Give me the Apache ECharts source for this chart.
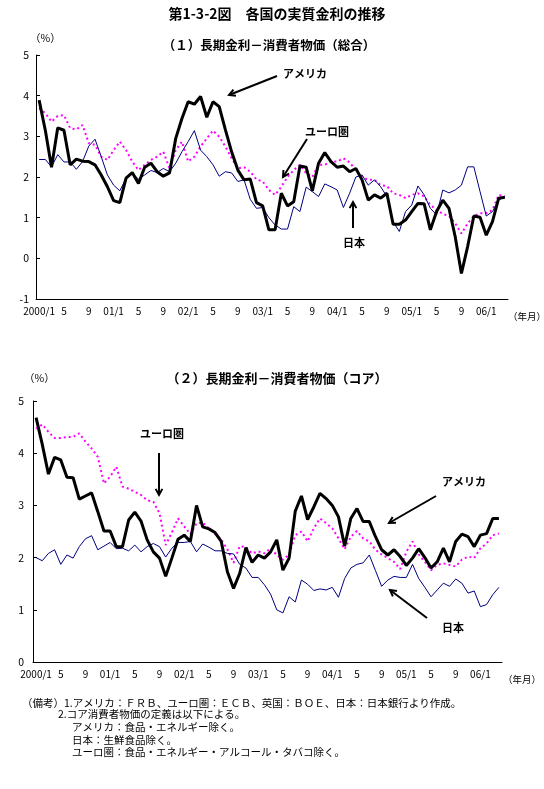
<!DOCTYPE html>
<html>
<head>
<meta charset="utf-8">
<script src="https://cdn.jsdelivr.net/npm/echarts@6/dist/echarts.min.js"></script>
<style>
    html, body {margin: 0; padding: 0; background: #fff;}
    #chart {width: 544px; height: 789px;}
</style>
</head>
<body>
<div id="chart"></div>
<script>
// 月次カテゴリ 2000/1 ~ 2006/4
const categories = [];
for (let y = 2000; y <= 2006; y += 1)
    for (let m = 1; m <= 12; m += 1)
        if (categories.length < 76) categories.push(y + '/' + m);

const tickLabels = ['2000/1', '5', '9', '01/1', '5', '9', '02/1', '5', '9', '03/1', '5', '9', '04/1', '5', '9', '05/1', '5', '9', '06/1'];

// (1) 総合
const usTotal = [3.89, 3.15, 2.24, 3.21, 3.15, 2.30, 2.44, 2.39, 2.38, 2.30, 2.05, 1.76, 1.42, 1.37, 1.97, 2.11, 1.84, 2.24, 2.34, 2.13,
    2.02, 2.10, 2.95, 3.44, 3.85, 3.79, 3.98, 3.47, 3.85, 3.73, 3.16, 2.62, 2.17, 1.93, 1.95, 1.37, 1.29, 0.70, 0.70, 1.60,
    1.29, 1.39, 2.27, 2.24, 1.66, 2.34, 2.60, 2.38, 2.24, 2.27, 2.13, 2.21, 1.93, 1.43, 1.56, 1.48, 1.60, 0.84, 0.84, 0.94,
    1.15, 1.35, 1.34, 0.70, 1.15, 1.43, 1.23, 0.53, -0.37, 0.29, 1.04, 1.01, 0.57, 0.90, 1.48, 1.50];
const euroTotal = [3.69, 3.57, 3.36, 3.50, 3.52, 3.20, 3.17, 3.28, 2.83, 2.79, 2.50, 2.42, 2.66, 2.87, 2.66, 2.38, 2.17, 2.30, 2.42, 2.50,
    2.62, 2.21, 2.66, 2.87, 2.38, 2.50, 2.75, 2.95, 3.14, 2.99, 2.75, 2.46, 2.21, 2.24, 2.13, 1.94, 1.89, 1.68, 1.56, 1.76,
    2.00, 2.17, 2.30, 2.09, 2.00, 2.30, 2.30, 2.38, 2.38, 2.46, 2.36, 2.17, 2.00, 1.93, 1.93, 1.80, 1.78, 1.60, 1.56, 1.48,
    1.56, 1.60, 1.52, 1.31, 1.19, 1.09, 1.04, 0.86, 0.61, 0.86, 1.04, 1.11, 1.11, 1.19, 1.56, 1.52];
const japanTotal = [2.43, 2.43, 2.25, 2.55, 2.37, 2.37, 2.19, 2.38, 2.76, 2.93, 2.50, 2.05, 1.80, 1.66, 1.97, 2.09, 1.95, 2.05, 2.16, 2.11,
    2.21, 2.13, 2.34, 2.62, 2.87, 3.14, 2.66, 2.50, 2.30, 2.02, 2.13, 2.10, 1.89, 1.93, 1.45, 1.23, 1.25, 1.00, 0.82, 0.72,
    0.72, 1.27, 1.15, 1.75, 1.64, 1.52, 1.83, 1.76, 1.68, 1.25, 1.60, 2.00, 2.05, 1.80, 1.93, 1.76, 1.52, 0.90, 0.66, 1.15,
    1.31, 1.78, 1.56, 1.23, 1.07, 1.68, 1.61, 1.68, 1.80, 2.25, 2.25, 1.64, 1.04, 1.15, 1.43, 1.52];

// (2) コア
const usCore = [4.68, 4.17, 3.60, 3.92, 3.87, 3.54, 3.53, 3.12, 3.18, 3.24, 2.88, 2.51, 2.51, 2.21, 2.21, 2.72, 2.87, 2.70, 2.34, 2.11,
    1.99, 1.64, 1.99, 2.35, 2.43, 2.31, 3.00, 2.59, 2.55, 2.48, 2.31, 1.73, 1.41, 1.70, 2.19, 1.91, 2.05, 1.99, 2.11, 2.34,
    1.76, 1.99, 2.89, 3.18, 2.73, 2.97, 3.23, 3.13, 3.00, 2.78, 2.22, 2.75, 2.94, 2.69, 2.69, 2.40, 2.15, 2.05, 2.15, 2.02,
    1.85, 1.99, 2.17, 2.00, 1.80, 1.92, 2.18, 1.92, 2.31, 2.45, 2.40, 2.21, 2.43, 2.46, 2.75, 2.75];
const euroCore = [4.47, 4.55, 4.41, 4.29, 4.29, 4.31, 4.31, 4.38, 4.22, 4.09, 3.93, 3.42, 3.55, 3.74, 3.36, 3.32, 3.26, 3.20, 3.10, 3.07,
    2.85, 2.24, 2.48, 2.75, 2.60, 2.45, 2.66, 2.67, 2.56, 2.45, 2.34, 2.16, 1.90, 2.22, 2.20, 2.08, 2.12, 2.08, 2.18, 2.05,
    1.96, 2.06, 2.43, 2.50, 2.31, 2.56, 2.75, 2.66, 2.56, 2.37, 2.16, 2.40, 2.51, 2.37, 2.31, 2.15, 2.06, 1.99, 1.92, 1.78,
    2.11, 2.31, 2.06, 1.92, 1.76, 1.86, 1.89, 1.86, 1.83, 1.96, 2.02, 1.99, 2.18, 2.27, 2.43, 2.46];
const japanCore = [2.00, 1.94, 2.08, 2.15, 1.87, 2.05, 1.99, 2.21, 2.36, 2.42, 2.15, 2.22, 2.29, 2.17, 2.18, 2.13, 2.24, 2.11, 2.21, 2.27,
    2.21, 2.01, 2.18, 2.29, 2.29, 2.31, 2.11, 2.26, 2.20, 2.13, 2.13, 2.08, 2.07, 1.87, 1.80, 1.62, 1.62, 1.48, 1.30, 1.00,
    0.94, 1.25, 1.15, 1.57, 1.49, 1.37, 1.40, 1.38, 1.43, 1.24, 1.60, 1.80, 1.87, 1.90, 2.05, 1.75, 1.45, 1.57, 1.64, 1.62,
    1.62, 1.87, 1.60, 1.43, 1.25, 1.38, 1.51, 1.45, 1.59, 1.51, 1.32, 1.36, 1.06, 1.10, 1.29, 1.43];

const FONT = '"Noto Sans CJK JP", "Noto Sans", sans-serif';

function text(x, y, str, size, weight = 'normal', align = 'left') {
    return {
        type: 'text', x: x, y: y, silent: true,
        style: {
            text: str, fill: '#000', textAlign: align, textVerticalAlign: 'middle',
            font: `${weight} ${size}px ${FONT}`
        }
    };
}

function arrow(x1, y1, x2, y2) {
    const a = Math.atan2(y2 - y1, x2 - x1);
    const h = 7, w = 0.5;

    return {
        type: 'group', silent: true,
        children: [{
            type: 'line', shape: {x1: x1, y1: y1, x2: x2, y2: y2},
            style: {stroke: '#000', lineWidth: 2}
        }, {
            type: 'polyline',
            shape: {
                points: [
                    [x2 - h * Math.cos(a - w), y2 - h * Math.sin(a - w)],
                    [x2, y2],
                    [x2 - h * Math.cos(a + w), y2 - h * Math.sin(a + w)]
                ]
            },
            style: {stroke: '#000', lineWidth: 2, fill: null}
        }]
    };
}

function xAxis(gridIndex) {
    return {
        type: 'category', gridIndex: gridIndex, data: categories, boundaryGap: true,
        axisLine: {onZero: false, lineStyle: {color: '#000', width: 1}},
        axisTick: {show: false},
        axisLabel: {
            interval: 3, margin: 7, color: '#000', fontSize: 10, fontFamily: FONT,
            formatter: (v, i) => tickLabels[i / 4] ?? ''
        },
        splitLine: {show: false}
    };
}

function yAxis(gridIndex, min, margin) {
    return {
        type: 'value', gridIndex: gridIndex, min: min, max: 5, interval: 1,
        axisLine: {show: true, lineStyle: {color: '#000', width: 1}},
        axisTick: {show: true, inside: true, length: 4, lineStyle: {color: '#000'}},
        axisLabel: {margin: margin, color: '#000', fontSize: 10.5, fontFamily: FONT},
        splitLine: {show: false}
    };
}

function lines(idx, us, euro, japan) {
    return [{
        type: 'line', xAxisIndex: idx, yAxisIndex: idx, data: euro, symbol: 'none',
        lineStyle: {color: '#ff00ff', width: 2, type: [2, 3]}
    }, {
        type: 'line', xAxisIndex: idx, yAxisIndex: idx, data: japan, symbol: 'none',
        lineStyle: {color: '#000080', width: 1}
    }, {
        type: 'line', xAxisIndex: idx, yAxisIndex: idx, data: us, symbol: 'none',
        lineStyle: {color: '#000', width: 3}
    }];
}

const chart = echarts.init(document.getElementById('chart'), null, {renderer: 'canvas'});

chart.setOption({
    animation: false,
    backgroundColor: '#fff',
    grid: [
        {left: 36, top: 55, width: 472, height: 244},
        {left: 33, top: 401, width: 469, height: 261}
    ],
    xAxis: [xAxis(0), xAxis(1)],
    yAxis: [yAxis(0, -1, 7), yAxis(1, 0, 9)],
    series: [...lines(0, usTotal, euroTotal, japanTotal), ...lines(1, usCore, euroCore, japanCore)],
    graphic: [
        text(277, 14, '第1-3-2図　各国の実質金利の推移', 14, 'bold', 'center'),
        text(30, 38, '（%）', 10.5, 'normal'),
        text(269, 45, '（１）長期金利－消費者物価（総合）', 12.5, 'bold', 'center'),
        text(508, 316, '（年月）', 9.5, 'normal'),
        text(283, 74, 'アメリカ', 11, 'bold'),
        arrow(277, 76, 229, 95),
        text(305, 132, 'ユーロ圏', 11, 'bold'),
        arrow(307, 139, 283, 177),
        text(343, 243, '日本', 11, 'bold'),
        arrow(353, 228, 353, 202),

        text(24, 378, '（%）', 10.5, 'normal'),
        text(277, 378, '（２）長期金利－消費者物価（コア）', 13, 'bold', 'center'),
        text(503, 679, '（年月）', 9.5, 'normal'),
        text(140, 434, 'ユーロ圏', 11, 'bold'),
        arrow(159, 453, 159, 495),
        text(442, 482, 'アメリカ', 11, 'bold'),
        arrow(436, 496, 389, 523),
        text(442, 628, '日本', 11, 'bold'),
        arrow(427, 618, 390, 590),

        text(22, 703, '（備考）1.アメリカ：ＦＲＢ、ユーロ圏：ＥＣＢ、英国：ＢＯＥ、日本：日本銀行より作成。', 10.5),
        text(58, 714, '2.コア消費者物価の定義は以下による。', 10.5),
        text(72, 727, 'アメリカ：食品・エネルギー除く。', 10.5),
        text(72, 740, '日本：生鮮食品除く。', 10.5),
        text(72, 752, 'ユーロ圏：食品・エネルギー・アルコール・タバコ除く。', 10.5)
    ]
});
</script>
</body>
</html>
